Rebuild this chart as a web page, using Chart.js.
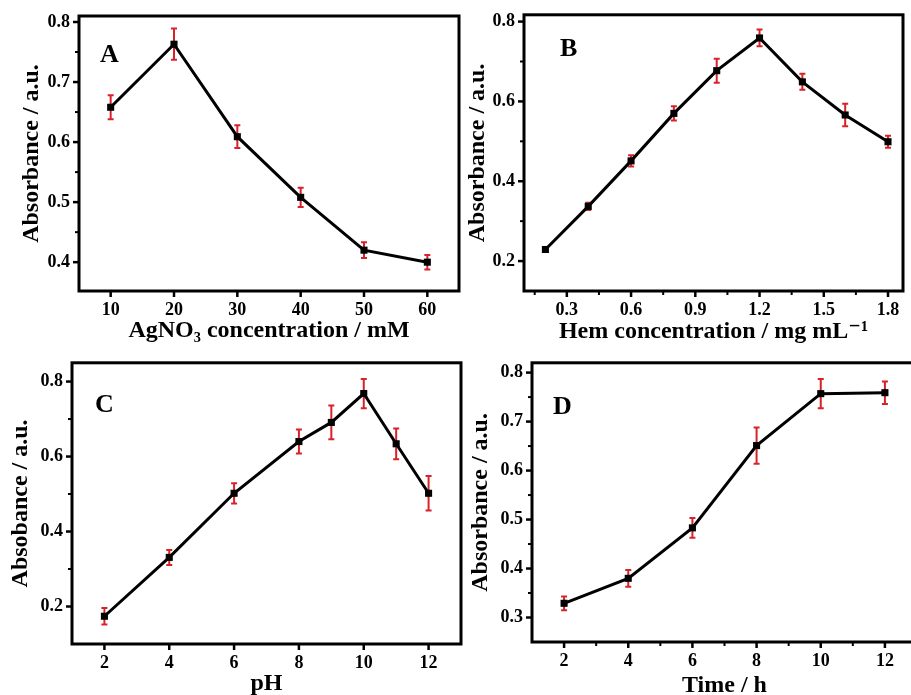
<!DOCTYPE html>
<html>
<head>
<meta charset="utf-8">
<script src="https://cdn.jsdelivr.net/npm/chart.js@4"></script>
<style>
  html, body { margin: 0; padding: 0; background: #fff; overflow: hidden; }
  #wrap { position: relative; width: 911px; height: 695px; overflow: hidden; background: #fff; }
  #wrap canvas { position: absolute; }
</style>
</head>
<body>
<div id="wrap">
  <canvas id="panelA" width="470" height="348" style="left:0;top:0"></canvas>
  <canvas id="panelB" width="451" height="348" style="left:460px;top:0"></canvas>
  <canvas id="panelC" width="470" height="355" style="left:0;top:348px"></canvas>
  <canvas id="panelD" width="470" height="355" style="left:460px;top:348px"></canvas>
</div>
<script>
// Panel A: AgNO3 concentration
const agno3Conc = [10, 20, 30, 40, 50, 60];
const agno3Abs  = [0.658, 0.763, 0.609, 0.508, 0.420, 0.400];
const agno3Err  = [0.020, 0.026, 0.019, 0.016, 0.013, 0.012];
const agno3XTicks = ['10', '20', '30', '40', '50', '60'];
const agno3YTicks = ['0.4', '0.5', '0.6', '0.7', '0.8'];

// Panel B: Hem concentration
const hemConc = [0.2, 0.4, 0.6, 0.8, 1.0, 1.2, 1.4, 1.6, 1.8];
const hemAbs  = [0.229, 0.337, 0.451, 0.570, 0.677, 0.759, 0.649, 0.566, 0.499];
const hemErr  = [0.005, 0.009, 0.014, 0.018, 0.030, 0.021, 0.020, 0.028, 0.015];
const hemXTicks = ['0.3', '0.6', '0.9', '1.2', '1.5', '1.8'];
const hemYTicks = ['0.2', '0.4', '0.6', '0.8'];

// Panel C: pH
const phValues = [2, 4, 6, 8, 9, 10, 11, 12];
const phAbs    = [0.174, 0.331, 0.502, 0.640, 0.691, 0.768, 0.634, 0.502];
const phErr    = [0.022, 0.020, 0.027, 0.032, 0.045, 0.039, 0.041, 0.046];
const phXTicks = ['2', '4', '6', '8', '10', '12'];
const phYTicks = ['0.2', '0.4', '0.6', '0.8'];

// Panel D: reaction time
const timeHours = [2, 4, 6, 8, 10, 12];
const timeAbs   = [0.329, 0.380, 0.483, 0.651, 0.757, 0.759];
const timeErr   = [0.014, 0.017, 0.020, 0.037, 0.030, 0.023];
const timeXTicks = ['2', '4', '6', '8', '10', '12'];
const timeYTicks = ['0.3', '0.4', '0.5', '0.6', '0.7', '0.8'];

const SERIF = "'Liberation Serif', 'Times New Roman', 'DejaVu Serif', serif";
const INK = '#000000';
const ERR_RED = '#d8222a';

// Major ticks from the label list, optional minor ticks halfway between them
function buildTickList(labels, min, max, withMinor) {
  const major = labels.map(Number);
  const out = major.map(v => ({ value: v, minor: false }));
  if (withMinor && major.length > 1) {
    const step = major[1] - major[0];
    const eps = step * 0.05;
    const candidates = [major[0] - step / 2];
    for (let i = 0; i < major.length; i++) candidates.push(major[i] + step / 2);
    candidates.forEach(v => {
      if (v > min + eps && v < max - eps) out.push({ value: v, minor: true });
    });
  }
  out.sort((a, b) => a.value - b.value);
  return out;
}

function labelFor(labels, value) {
  for (const s of labels) {
    if (Math.abs(Number(s) - value) < 1e-6) return s;
  }
  return '';
}

// Error bars, tick marks, frame and panel letter
const panelDecor = {
  id: 'panelDecor',
  beforeDatasetsDraw(chart) {
    const ctx = chart.ctx;
    const xs = chart.scales.x, ys = chart.scales.y;
    const ds = chart.data.datasets[0];
    ctx.save();
    ctx.strokeStyle = ERR_RED;
    ctx.lineWidth = 2;
    ds.data.forEach((p, i) => {
      const e = ds.errors[i];
      const px = xs.getPixelForValue(p.x);
      const top = ys.getPixelForValue(p.y + e);
      const bot = ys.getPixelForValue(p.y - e);
      ctx.beginPath();
      ctx.moveTo(px, top); ctx.lineTo(px, bot);
      ctx.moveTo(px - 3, top); ctx.lineTo(px + 3, top);
      ctx.moveTo(px - 3, bot); ctx.lineTo(px + 3, bot);
      ctx.stroke();
    });
    ctx.restore();
  },
  afterDraw(chart, args, opts) {
    const ctx = chart.ctx;
    const a = chart.chartArea;
    const xs = chart.scales.x, ys = chart.scales.y;
    ctx.save();
    ctx.strokeStyle = INK;
    ctx.lineCap = 'butt';
    xs.ticks.forEach(t => {
      const px = xs.getPixelForValue(t.value);
      ctx.lineWidth = t.minor ? 2 : 2.5;
      ctx.beginPath();
      ctx.moveTo(px, a.bottom);
      ctx.lineTo(px, a.bottom + (t.minor ? 4 : 6));
      ctx.stroke();
    });
    ys.ticks.forEach(t => {
      const py = ys.getPixelForValue(t.value);
      ctx.lineWidth = t.minor ? 2 : 2.5;
      ctx.beginPath();
      ctx.moveTo(a.left, py);
      ctx.lineTo(a.left - (t.minor ? 4 : 6), py);
      ctx.stroke();
    });
    ctx.lineWidth = 3;
    ctx.lineJoin = 'miter';
    ctx.strokeRect(a.left, a.top, a.right - a.left, a.bottom - a.top);
    ctx.fillStyle = INK;
    ctx.font = 'bold 26px ' + SERIF;
    ctx.textBaseline = 'alphabetic';
    ctx.textAlign = 'left';
    ctx.fillText(opts.letter, a.left + opts.dx, a.top + opts.dy);
    ctx.restore();
  }
};

function makePanel(id, xVals, yVals, errs, xLabels, yLabels, cfg) {
  const xTicks = buildTickList(xLabels, cfg.xMin, cfg.xMax, cfg.minorX);
  const yTicks = buildTickList(yLabels, cfg.yMin, cfg.yMax, true);
  const tickFont = { family: SERIF, size: 18, weight: 'bold', lineHeight: 1.2 };
  const titleFont = { family: SERIF, size: 24, weight: 'bold', lineHeight: 1.2 };
  return new Chart(document.getElementById(id), {
    type: 'line',
    data: {
      datasets: [{
        data: xVals.map((x, i) => ({ x: x, y: yVals[i] })),
        errors: errs,
        borderColor: INK,
        borderWidth: 3,
        tension: 0,
        pointStyle: 'rect',
        pointRadius: 5,
        pointBackgroundColor: INK,
        pointBorderColor: INK,
        pointBorderWidth: 0,
        clip: false
      }]
    },
    options: {
      responsive: false,
      animation: false,
      devicePixelRatio: 1,
      layout: { padding: { top: cfg.padTop, right: cfg.padRight, left: 0, bottom: 0 } },
      plugins: {
        legend: { display: false },
        tooltip: { enabled: false },
        panelDecor: { letter: cfg.letter, dx: cfg.letterDx, dy: cfg.letterDy }
      },
      scales: {
        x: {
          type: 'linear',
          min: cfg.xMin,
          max: cfg.xMax,
          afterBuildTicks: s => { s.ticks = xTicks.map(t => ({ value: t.value, minor: t.minor })); },
          afterFit: s => { s.height = cfg.xHeight; },
          grid: { display: false, drawTicks: true, tickLength: 5 },
          border: { display: false },
          ticks: {
            autoSkip: false, maxRotation: 0, padding: 4, color: INK, font: tickFont,
            callback: v => labelFor(xLabels, v)
          },
          title: {
            display: true, text: cfg.xTitle, color: INK, font: titleFont,
            padding: { top: 0, bottom: cfg.xTitlePad }
          }
        },
        y: {
          type: 'linear',
          min: cfg.yMin,
          max: cfg.yMax,
          afterBuildTicks: s => { s.ticks = yTicks.map(t => ({ value: t.value, minor: t.minor })); },
          afterFit: s => { s.width = cfg.yWidth; },
          grid: { display: false, drawTicks: true, tickLength: 5 },
          border: { display: false },
          ticks: {
            autoSkip: false, padding: 4, color: INK, font: tickFont,
            callback: v => labelFor(yLabels, v)
          },
          title: {
            display: true, text: cfg.yTitle, color: INK, font: titleFont,
            padding: { top: cfg.yTitlePad, bottom: 0 }
          }
        }
      }
    },
    plugins: [panelDecor]
  });
}

makePanel('panelA', agno3Conc, agno3Abs, agno3Err, agno3XTicks, agno3YTicks, {
  xMin: 5, xMax: 65, yMin: 0.352, yMax: 0.81, minorX: false,
  padTop: 16, padRight: 11, yWidth: 79, xHeight: 57,
  xTitle: 'AgNO\u2083 concentration / mM', xTitlePad: 2.6,
  yTitle: 'Absorbance / a.u.', yTitlePad: 17.6,
  letter: 'A', letterDx: 21, letterDy: 46
});

makePanel('panelB', hemConc, hemAbs, hemErr, hemXTicks, hemYTicks, {
  xMin: 0.1, xMax: 1.87, yMin: 0.125, yMax: 0.817, minorX: true,
  padTop: 14, padRight: 8, yWidth: 64, xHeight: 57,
  xTitle: 'Hem concentration / mg mL\u207B\u00B9', xTitlePad: 1.6,
  yTitle: 'Absorbance / a.u.', yTitlePad: 3.1,
  letter: 'B', letterDx: 36, letterDy: 41
});

makePanel('panelC', phValues, phAbs, phErr, phXTicks, phYTicks, {
  xMin: 1, xMax: 13, yMin: 0.1, yMax: 0.85, minorX: false,
  padTop: 14, padRight: 9, yWidth: 72, xHeight: 59,
  xTitle: 'pH', xTitlePad: 4.6,
  yTitle: 'Absobance / a.u.', yTitlePad: 6.6,
  letter: 'C', letterDx: 23, letterDy: 49
});

makePanel('panelD', timeHours, timeAbs, timeErr, timeXTicks, timeYTicks, {
  xMin: 1, xMax: 13, yMin: 0.25, yMax: 0.82, minorX: true,
  padTop: 14, padRight: 13, yWidth: 72, xHeight: 61,
  xTitle: 'Time / h', xTitlePad: 2.6,
  yTitle: 'Absorbance / a.u.', yTitlePad: 6.6,
  letter: 'D', letterDx: 21, letterDy: 51
});
</script>
</body>
</html>
